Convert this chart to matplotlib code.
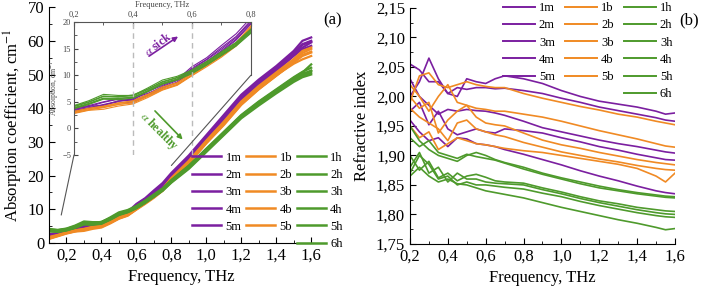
import numpy as np
import matplotlib
matplotlib.use("Agg")
import matplotlib.pyplot as plt
from matplotlib.ticker import MultipleLocator, FuncFormatter
from matplotlib.lines import Line2D
from matplotlib.patches import ConnectionPatch, FancyArrowPatch

plt.rcParams['font.family'] = ['Liberation Serif', 'DejaVu Serif']
plt.rcParams['mathtext.fontset'] = 'stix'

PURPLE = '#7B1FA0'
ORANGE = '#F08A24'
GREEN = '#4E9A2C'

# (a) absorption coefficient, cm^-1
freq_a = [0.1, 0.15, 0.2, 0.25, 0.3, 0.35, 0.4, 0.45, 0.5, 0.55, 0.6, 0.65, 0.7, 0.75,
          0.8, 0.9, 1.0, 1.1, 1.2, 1.3, 1.4, 1.5, 1.55, 1.6]

abs_m = [
    [2.2, 2.9, 3.8, 4.3, 5.0, 5.6, 5.4, 6.9, 8.1, 9.2, 11.6, 13.3, 15.6, 17.8, 20.8, 26.0, 32.0, 38.0, 44.0, 48.5, 52.5, 57.0, 60.0, 61.0],
    [1.6, 2.3, 3.2, 3.8, 4.4, 5.0, 4.8, 6.2, 7.6, 8.6, 10.8, 12.6, 14.6, 16.8, 19.8, 24.8, 30.6, 36.6, 42.4, 47.0, 51.0, 55.5, 57.5, 58.5],
    [2.6, 3.0, 3.6, 4.1, 4.9, 5.5, 5.0, 6.4, 7.9, 9.0, 11.3, 13.0, 15.2, 17.3, 20.3, 25.3, 31.3, 37.4, 43.4, 48.0, 52.0, 56.5, 59.0, 60.0],
    [1.8, 2.5, 3.4, 3.9, 4.5, 5.1, 5.6, 6.6, 7.7, 8.6, 10.6, 12.4, 14.4, 16.6, 19.6, 24.6, 30.5, 36.4, 42.6, 47.2, 51.2, 55.8, 58.0, 59.5],
    [2.3, 2.7, 3.5, 4.2, 4.3, 5.2, 5.3, 6.3, 7.6, 8.7, 11.1, 12.9, 14.9, 17.1, 20.1, 25.1, 31.2, 37.1, 43.2, 47.6, 51.7, 56.2, 58.8, 59.8],
]
abs_b = [
    [1.2, 2.0, 2.8, 3.4, 3.6, 4.2, 4.6, 5.8, 7.2, 8.1, 9.9, 11.6, 13.4, 15.5, 18.8, 23.6, 29.6, 35.0, 41.0, 45.6, 49.6, 53.6, 55.5, 56.5],
    [1.8, 2.4, 3.2, 3.8, 4.2, 4.8, 5.2, 6.4, 7.8, 8.6, 10.4, 12.3, 14.2, 16.1, 19.3, 24.4, 30.4, 36.0, 42.0, 46.6, 50.6, 54.6, 57.0, 58.0],
    [1.4, 2.1, 2.9, 3.5, 3.9, 4.5, 4.9, 6.0, 7.3, 8.3, 10.0, 11.8, 13.6, 15.6, 18.7, 23.7, 29.7, 35.2, 41.2, 45.7, 49.7, 53.7, 55.8, 56.8],
    [1.6, 2.3, 3.1, 3.7, 4.1, 4.7, 5.1, 6.3, 7.6, 8.5, 10.3, 12.1, 14.0, 16.0, 19.1, 24.2, 30.2, 35.8, 41.8, 46.3, 50.3, 54.3, 56.4, 57.6],
    [1.3, 2.2, 3.0, 3.5, 4.0, 4.5, 4.8, 6.1, 7.4, 8.2, 10.1, 11.9, 13.7, 15.7, 18.9, 23.8, 29.8, 35.4, 41.4, 45.9, 49.8, 53.2, 54.5, 55.5],
]
abs_h = [
    [4.2, 3.9, 4.3, 5.2, 6.4, 6.2, 6.2, 7.6, 9.1, 9.8, 11.0, 12.6, 14.4, 16.2, 18.7, 23.0, 28.0, 33.0, 38.0, 42.0, 45.6, 49.2, 50.8, 52.0],
    [3.6, 3.4, 3.8, 4.6, 5.6, 5.6, 5.9, 7.0, 8.4, 9.2, 10.4, 12.0, 13.8, 15.6, 18.1, 22.3, 27.3, 32.3, 37.3, 41.3, 44.8, 48.3, 49.8, 51.2],
    [3.9, 3.7, 4.1, 4.9, 6.0, 6.0, 6.1, 7.3, 8.7, 9.5, 10.7, 12.3, 14.1, 15.9, 18.4, 22.6, 27.6, 32.6, 37.6, 41.6, 45.2, 48.8, 50.3, 51.0],
    [3.4, 3.3, 3.7, 4.5, 5.5, 5.4, 5.7, 6.9, 8.3, 9.1, 10.3, 11.9, 13.7, 15.5, 17.9, 22.0, 27.0, 32.0, 37.0, 40.8, 44.4, 47.8, 49.2, 50.0],
    [4.0, 3.8, 4.2, 5.0, 6.1, 5.9, 6.3, 7.4, 8.8, 9.6, 10.9, 12.5, 14.3, 16.1, 18.5, 22.8, 27.8, 32.8, 37.8, 41.8, 45.4, 49.0, 50.6, 53.0],
    [3.7, 3.5, 3.9, 4.7, 5.7, 5.7, 5.8, 7.1, 8.5, 9.3, 10.5, 12.1, 13.9, 15.7, 18.2, 22.4, 27.4, 32.4, 37.4, 41.4, 45.0, 48.6, 49.6, 50.5],
]

# (b) refractive index
freq_b = [0.2, 0.25, 0.3, 0.35, 0.4, 0.45, 0.5, 0.55, 0.6, 0.65, 0.7,
          0.8, 0.9, 1.0, 1.1, 1.2, 1.3, 1.4, 1.5, 1.55, 1.6]

n_m = [
    [2.00, 2.025, 2.065, 2.03, 2.005, 2.00, 2.03, 2.025, 2.022, 2.03, 2.035, 2.03, 2.022, 2.01, 2.0, 1.992, 1.987, 1.982, 1.975, 1.97, 1.972],
    [2.055, 2.045, 2.025, 2.025, 2.005, 2.015, 2.012, 2.015, 2.015, 2.013, 2.014, 2.01, 2.005, 1.997, 1.99, 1.982, 1.976, 1.97, 1.964, 1.96, 1.958],
    [2.03, 2.00, 1.985, 1.97, 1.978, 1.975, 1.978, 1.976, 1.975, 1.972, 1.968, 1.958, 1.947, 1.94, 1.933, 1.926, 1.92, 1.915, 1.909, 1.906, 1.904],
    [1.975, 1.99, 1.952, 1.975, 1.945, 1.935, 1.94, 1.945, 1.94, 1.938, 1.945, 1.942, 1.938, 1.93, 1.923, 1.915, 1.909, 1.902, 1.896, 1.893, 1.892],
    [1.96, 1.94, 1.925, 1.93, 1.915, 1.93, 1.928, 1.92, 1.918, 1.915, 1.91, 1.902, 1.893, 1.884, 1.874, 1.865, 1.857, 1.848, 1.84, 1.837, 1.835],
]
n_b = [
    [1.99, 2.035, 2.04, 2.02, 2.015, 2.02, 2.025, 2.02, 2.017, 2.015, 2.015, 2.005, 1.997, 1.99, 1.983, 1.977, 1.97, 1.965, 1.958, 1.955, 1.952],
    [2.02, 2.00, 1.975, 2.00, 2.02, 1.99, 1.985, 1.98, 1.978, 1.975, 1.975, 1.97, 1.965, 1.958, 1.95, 1.942, 1.935, 1.928, 1.92, 1.916, 1.914],
    [2.00, 1.98, 1.99, 1.938, 1.96, 1.975, 1.985, 1.965, 1.955, 1.952, 1.95, 1.938, 1.926, 1.918, 1.912, 1.905, 1.899, 1.893, 1.888, 1.886, 1.884],
    [1.98, 1.965, 1.955, 1.945, 1.925, 1.955, 1.96, 1.945, 1.94, 1.935, 1.932, 1.922, 1.914, 1.906, 1.90, 1.894, 1.889, 1.883, 1.878, 1.876, 1.875],
    [1.95, 1.93, 1.94, 1.91, 1.92, 1.93, 1.925, 1.92, 1.918, 1.915, 1.912, 1.908, 1.905, 1.90, 1.895, 1.89, 1.885, 1.878, 1.865, 1.855, 1.87],
]
n_h = [
    [1.95, 1.925, 1.91, 1.90, 1.895, 1.89, 1.90, 1.905, 1.90, 1.893, 1.888, 1.88, 1.87, 1.862, 1.855, 1.848, 1.842, 1.837, 1.833, 1.831, 1.83],
    [1.93, 1.915, 1.925, 1.905, 1.90, 1.895, 1.902, 1.898, 1.895, 1.892, 1.887, 1.877, 1.868, 1.86, 1.852, 1.845, 1.84, 1.835, 1.831, 1.829, 1.828],
    [1.90, 1.875, 1.89, 1.862, 1.87, 1.857, 1.865, 1.868, 1.863, 1.857, 1.855, 1.853, 1.845, 1.838, 1.83, 1.823, 1.818, 1.812, 1.808, 1.806, 1.805],
    [1.88, 1.905, 1.87, 1.88, 1.855, 1.87, 1.86, 1.86, 1.855, 1.853, 1.852, 1.85, 1.842, 1.835, 1.827, 1.82, 1.814, 1.808, 1.803, 1.801, 1.80],
    [1.87, 1.90, 1.885, 1.86, 1.865, 1.85, 1.855, 1.85, 1.85, 1.848, 1.846, 1.843, 1.836, 1.83, 1.822, 1.815, 1.809, 1.803, 1.798, 1.796, 1.795],
    [1.865, 1.88, 1.865, 1.855, 1.86, 1.852, 1.85, 1.845, 1.84, 1.837, 1.834, 1.828, 1.82, 1.812, 1.805, 1.798, 1.791, 1.785, 1.778, 1.774, 1.776],
]

labels_m = ['1m', '2m', '3m', '4m', '5m']
labels_b = ['1b', '2b', '3b', '4b', '5b']
labels_h = ['1h', '2h', '3h', '4h', '5h', '6h']


def comma(fmt):
    return FuncFormatter(lambda v, pos: (fmt % v).replace('.', ','))


def style_axes(ax):
    ax.spines['top'].set_visible(False)
    ax.spines['right'].set_visible(False)
    ax.tick_params(which='both', direction='in', labelsize=12)
    ax.tick_params(which='major', length=4)
    ax.tick_params(which='minor', length=2.5)


def draw_groups(ax, x, groups, lw):
    handles = []
    for data, labels, color in groups:
        hs = []
        for y, lab in zip(data, labels):
            h, = ax.plot(x, y, color=color, lw=lw, label=lab)
            hs.append(h)
        handles.append(hs)
    return handles


def legend_handles(handles, lw):
    # pad the short columns with blanks so 6h sits alone at the bottom of column 3
    blank = Line2D([], [], linestyle='none')
    hl, ll = [], []
    for col in handles:
        for h in col:
            hl.append(Line2D([], [], color=h.get_color(), lw=lw))
            ll.append(h.get_label())
        while len(hl) % 6:
            hl.append(blank)
            ll.append('')
    return hl, ll


fig = plt.figure(figsize=(7.02, 2.96), dpi=100)

# ---- panel (a)
ax1 = fig.add_axes([0.0698, 0.179, 0.376, 0.797])
groups_a = [(abs_m, labels_m, PURPLE), (abs_b, labels_b, ORANGE), (abs_h, labels_h, GREEN)]
hand_a = draw_groups(ax1, freq_a, groups_a, 1.6)
ax1.set_xlim(0.1, 1.61)
ax1.set_ylim(0, 70)
ax1.xaxis.set_major_locator(MultipleLocator(0.2))
ax1.xaxis.set_minor_locator(MultipleLocator(0.1))
ax1.yaxis.set_major_locator(MultipleLocator(10))
ax1.yaxis.set_minor_locator(MultipleLocator(5))
ax1.xaxis.set_major_formatter(comma('%.1f'))
style_axes(ax1)
ax1.set_xlabel('Frequency, THz', fontsize=12)
ax1.set_ylabel('Absorption coefficient, cm$^{-1}$', fontsize=12, labelpad=2)

hl, ll = legend_handles(hand_a, 1.8)
fig.legend(hl, ll, loc='upper left', bbox_to_anchor=(0.274, 0.487), ncol=3,
           frameon=False, fontsize=9, handlelength=2.3, handletextpad=0.35,
           columnspacing=0.4, labelspacing=0.42, borderpad=0, borderaxespad=0)

# ---- inset
axins = fig.add_axes([0.1054, 0.4764, 0.252, 0.449])
axins.patch.set_alpha(0)
draw_groups(axins, freq_a, groups_a, 0.8)
axins.set_xlim(0.2, 0.8)
axins.set_ylim(-5, 20)
for xv in (0.4, 0.6):
    axins.axvline(xv, color='#BBBBBB', lw=1.0, ls=(0, (4, 3)))
axins.spines['bottom'].set_visible(False)
axins.spines['right'].set_visible(False)
for s in ('left', 'top'):
    axins.spines[s].set_color('#555555')
    axins.spines[s].set_linewidth(0.8)
axins.xaxis.tick_top()
axins.xaxis.set_label_position('top')
axins.xaxis.set_major_locator(MultipleLocator(0.2))
axins.xaxis.set_minor_locator(MultipleLocator(0.1))
axins.yaxis.set_major_locator(MultipleLocator(5))
axins.yaxis.set_minor_locator(MultipleLocator(2.5))
axins.xaxis.set_major_formatter(comma('%.1f'))
axins.tick_params(which='both', direction='in', labelsize=6, pad=2, colors='#444444')
axins.tick_params(which='major', length=3)
axins.tick_params(which='minor', length=1.8)
axins.set_xlabel('Frequency, THz', fontsize=6, labelpad=3, color='#444444')
axins.set_ylabel('Absorption, cm$^{-1}$', fontsize=5.5, labelpad=1, color='#444444')
axins.plot([0.8, 0.8], [10, 20], color='#555555', lw=0.8, clip_on=False)

for xyA, xyB in (((0.8, 10), (0.8, 23)), ((0.2, -5), (0.17, 8.3))):
    con = ConnectionPatch(xyA=xyA, coordsA=axins.transData, xyB=xyB,
                          coordsB=ax1.transData, color='#555555', lw=0.8)
    fig.add_artist(con)

fig.text(0.225, 0.85, r'$\alpha$ sick', color=PURPLE, fontsize=8.5, fontweight='bold',
         rotation=37, ha='center', va='center')
fig.add_artist(FancyArrowPatch((0.209, 0.805), (0.257, 0.882),
               transform=fig.transFigure, arrowstyle='-|>', mutation_scale=7,
               color=PURPLE, lw=1.2))
fig.text(0.226, 0.555, r'$\alpha$ healthy', color=GREEN, fontsize=8.5, fontweight='bold',
         rotation=-45, ha='center', va='center')
fig.add_artist(FancyArrowPatch((0.218, 0.632), (0.263, 0.522),
               transform=fig.transFigure, arrowstyle='-|>', mutation_scale=7,
               color=GREEN, lw=1.2))

fig.text(0.474, 0.932, '(a)', fontsize=12, ha='center', va='center')

# ---- panel (b)
ax2 = fig.add_axes([0.584, 0.176, 0.3775, 0.797])
groups_b = [(n_m, labels_m, PURPLE), (n_b, labels_b, ORANGE), (n_h, labels_h, GREEN)]
hand_b = draw_groups(ax2, freq_b, groups_b, 1.2)
ax2.set_xlim(0.2, 1.6)
ax2.set_ylim(1.75, 2.15)
ax2.xaxis.set_major_locator(MultipleLocator(0.2))
ax2.xaxis.set_minor_locator(MultipleLocator(0.1))
ax2.yaxis.set_major_locator(MultipleLocator(0.05))
ax2.yaxis.set_minor_locator(MultipleLocator(0.025))
ax2.xaxis.set_major_formatter(comma('%.1f'))
ax2.yaxis.set_major_formatter(comma('%.2f'))
style_axes(ax2)
ax2.set_xlabel('Frequency, THz', fontsize=12)
ax2.set_ylabel('Refractive index', fontsize=12, labelpad=4)

hl, ll = legend_handles(hand_b, 1.4)
fig.legend(hl, ll, loc='upper left', bbox_to_anchor=(0.716, 0.993), ncol=3,
           frameon=False, fontsize=9, handlelength=2.6, handletextpad=0.3,
           columnspacing=0.8, labelspacing=0.42, borderpad=0, borderaxespad=0)

fig.text(0.981, 0.932, '(b)', fontsize=12, ha='center', va='center')

fig.savefig('out.png', dpi=100)
